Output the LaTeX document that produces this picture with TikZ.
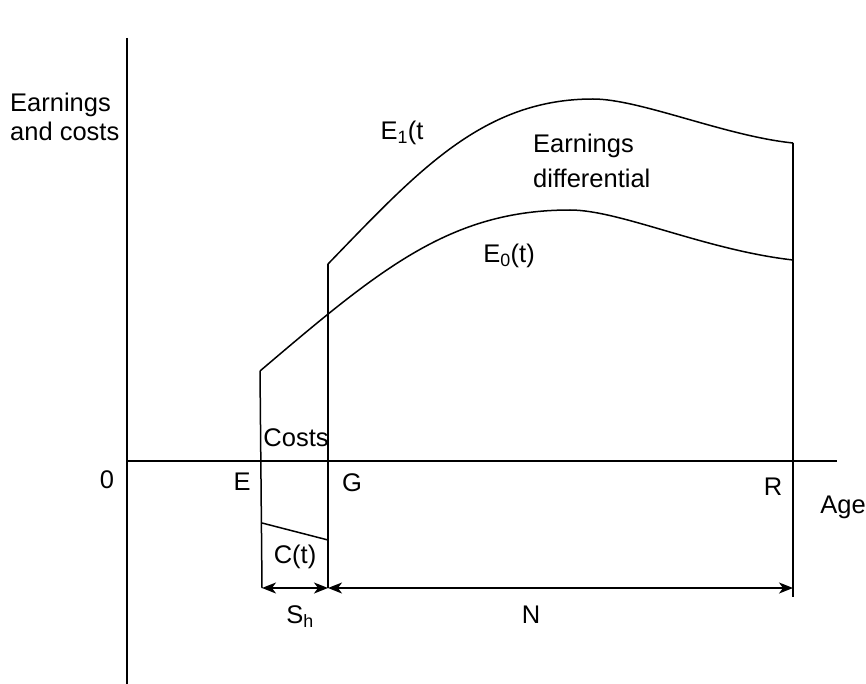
\documentclass[tikz,border=0pt]{standalone}
\usepackage{fontspec}
\setmainfont{Liberation Sans}
\usetikzlibrary{arrows.meta}

\begin{document}
\begin{tikzpicture}[
  x=1pt, y=-1pt,
  line/.style={line width=1.5pt},
  lbl/.style={font=\fontsize{25.5}{29}\selectfont, inner sep=0pt, anchor=base},
  >={Stealth[length=14pt,width=11pt,inset=4pt]}
]
\useasboundingbox (0,0) rectangle (866,684);

% points
\coordinate (ytop) at (127,38);
\coordinate (ybot) at (127,684);
\coordinate (xleft) at (127,461);
\coordinate (xright) at (837,461);
\coordinate (Etop) at (260,371);
\coordinate (Ebot) at (262,588);
\coordinate (Gtop) at (328,264);
\coordinate (Gbot) at (328,588);
\coordinate (Rtop) at (793,143);
\coordinate (Rmid) at (793,260);
\coordinate (Rbot) at (793,597);
\coordinate (Rarr) at (793,588);
\coordinate (Ctl) at (262,523);
\coordinate (Ctr) at (328,540);
\coordinate (peak0) at (570,210);
\coordinate (peak1) at (593,99);

% axes and verticals
\draw[line] (ytop) -- (ybot);
\draw[line] (xleft) -- (xright);
\draw[line] (Etop) -- (Ebot);
\draw[line] (Gtop) -- (Gbot);
\draw[line] (Rtop) -- (Rbot);
\draw[line] (Ctl) -- (Ctr);

% earnings profiles
\draw[line] (Etop) .. controls (380,269) and (450,210) .. (peak0)
  .. controls (620,210) and (705,250) .. (Rmid);
\draw[line] (Gtop) .. controls (418,171) and (483,99) .. (peak1)
  .. controls (640,99) and (725,136) .. (Rtop);

% spans
\draw[line,<->] (Ebot) -- (Gbot);
\draw[line,<->] (Gbot) -- (Rarr);

% labels
\node[lbl, align=left, anchor=base west] (ylabel) at (10,141) {Earnings\\and costs};
\node[lbl] (zero) at (107,488) {0};
\node[lbl] (Elbl) at (242,490) {E};
\node[lbl] (Glbl) at (352,491) {G};
\node[lbl] (Rlbl) at (773,495) {R};
\node[lbl] (age) at (843,513) {Age};
\node[lbl] (costs) at (296,446) {Costs};
\node[lbl] (ct) at (295,563) {C(t)};
\node[lbl] (sh) at (300,623) {S\textsubscript{h}};
\node[lbl] (nlbl) at (531,623) {N};
\node[lbl] (e1) at (402,140) {E\textsubscript{1}(t};
\node[lbl] (e0) at (509,263) {E\textsubscript{0}(t)};
\node[lbl, font=\fontsize{25.5}{35}\selectfont, align=left, anchor=base west] (diff) at (533,188) {Earnings\\differential};
\end{tikzpicture}
\end{document}
